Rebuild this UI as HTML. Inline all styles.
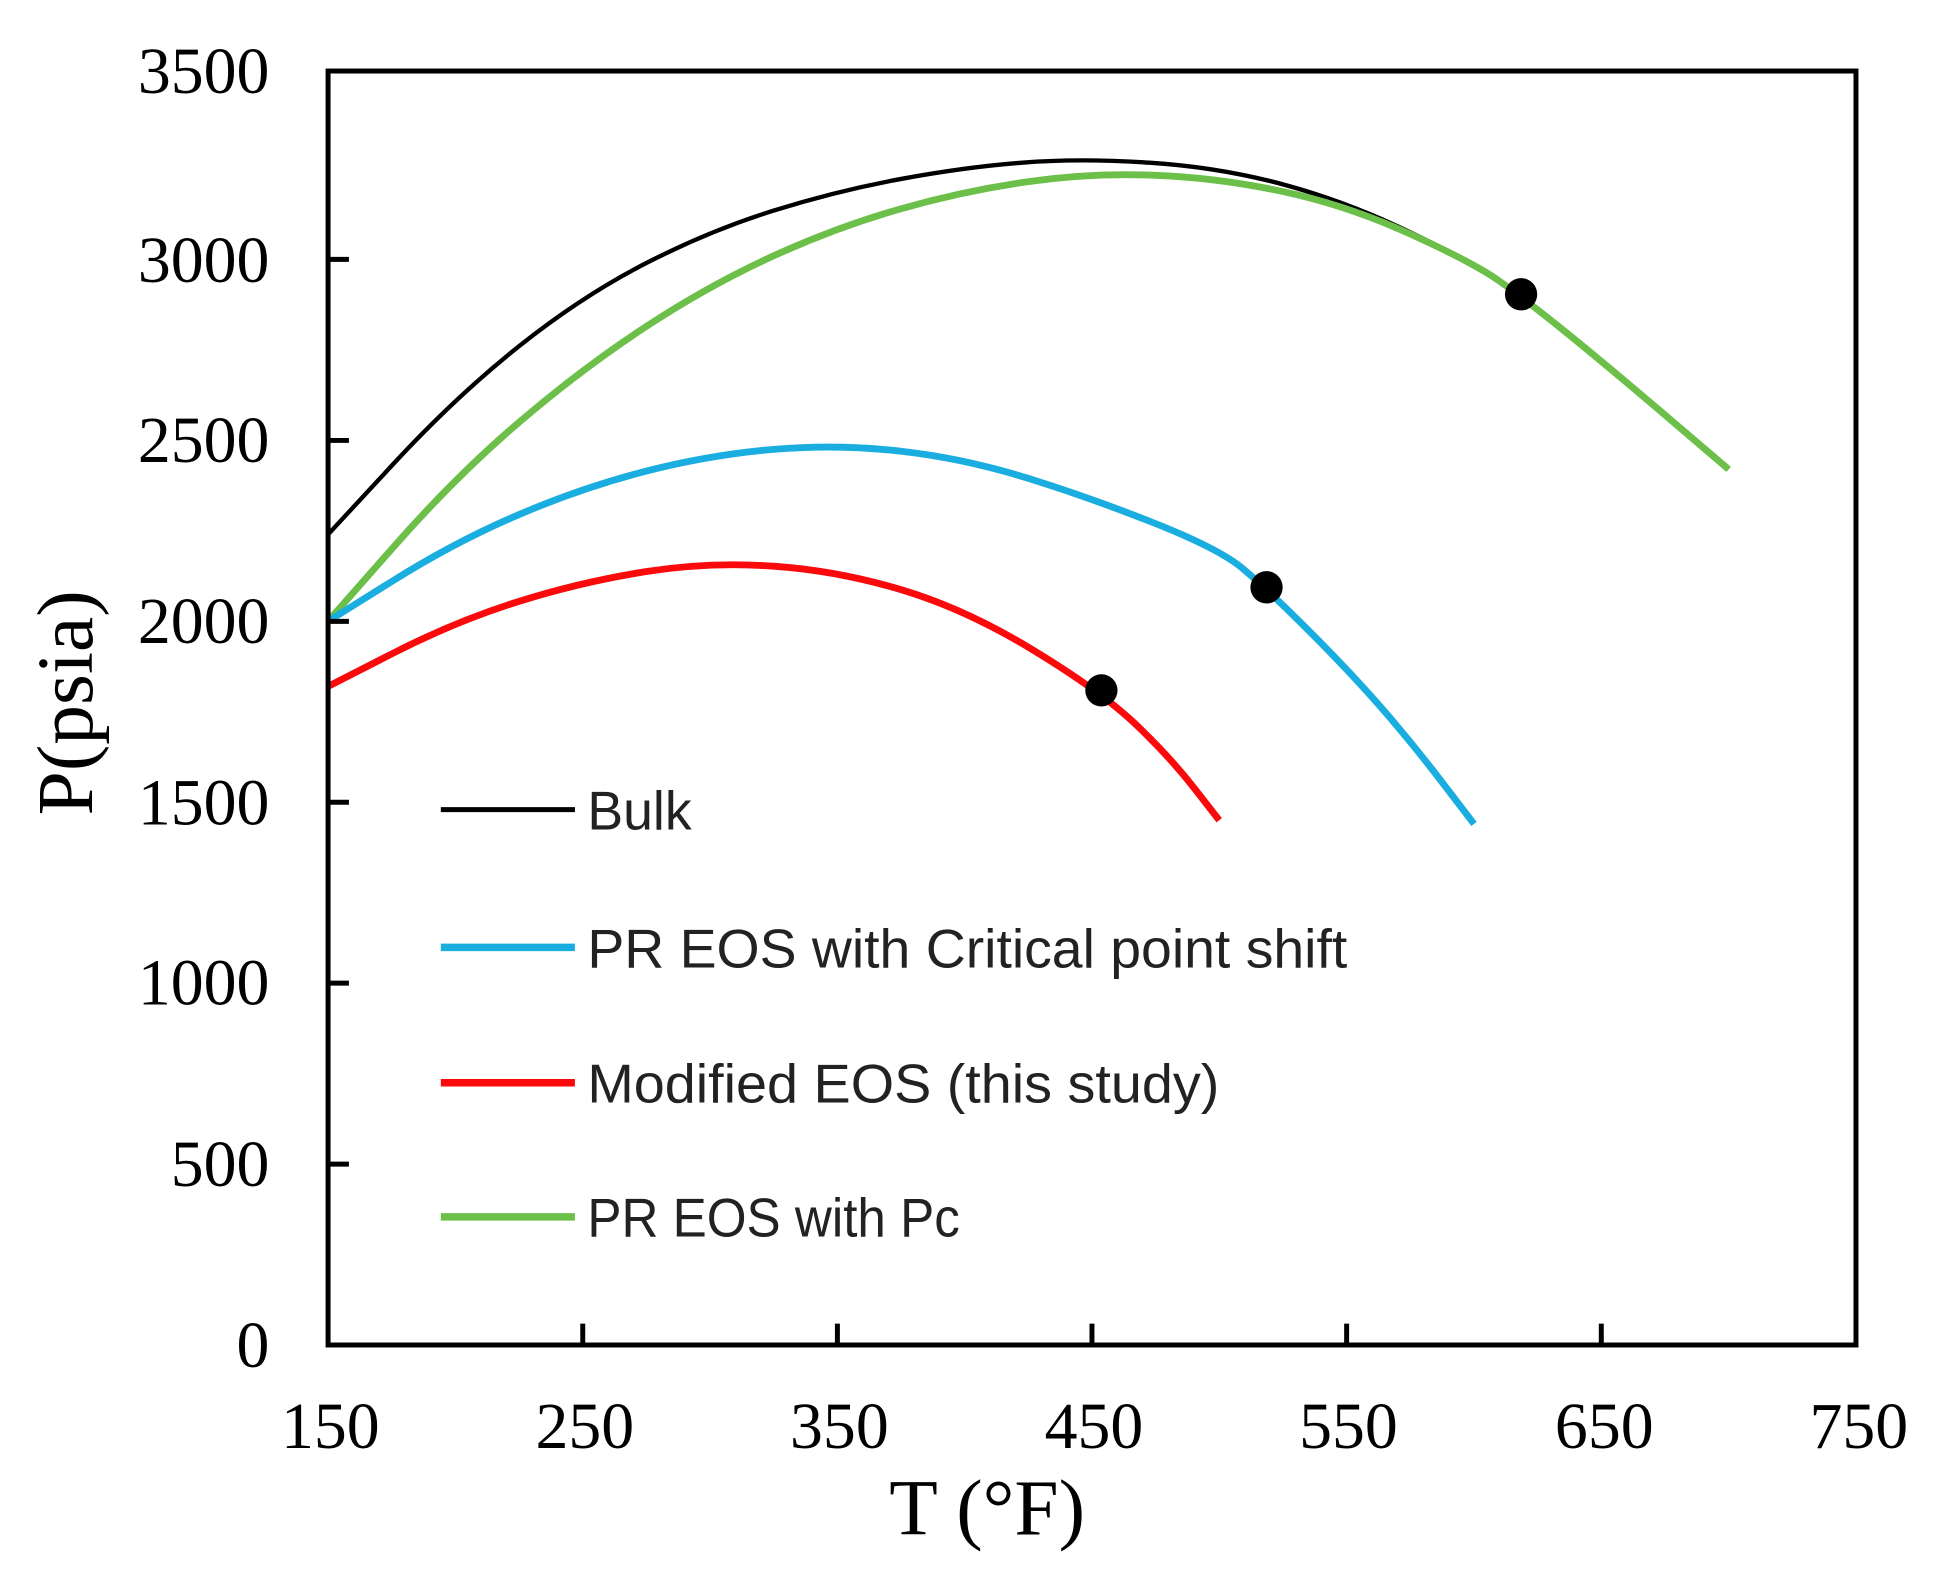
<!DOCTYPE html>
<html><head><meta charset="utf-8"><style>html,body{margin:0;padding:0;background:#fff}svg{display:block}</style></head>
<body>
<svg width="1947" height="1569" viewBox="0 0 1568 1263.6" xmlns="http://www.w3.org/2000/svg">
<rect x="0" y="0" width="1568" height="1263.6" fill="#fff"/>
<g fill="none" stroke-linejoin="round">
<path stroke="#000" stroke-width="3.5" d="M264.2,430.4 L315.5,375.0 Q366.7,319.6 418.0,278.8 Q469.3,238.0 520.6,211.8 Q571.8,185.6 623.1,169.6 Q674.4,153.5 725.7,144.1 Q776.9,134.6 823.1,131.0 Q869.2,127.3 925.6,131.0 Q981.9,134.6 1033.2,148.5 Q1084.5,162.3 1135.8,187.1 Q1187.1,211.8 1207.6,226.4 Q1228.1,241.0 1258.9,265.8 Q1289.6,290.5 1340.9,334.2 L1392.1,377.9"/>
<path stroke="#6cc04a" stroke-width="5.5" d="M264.2,500.3 L315.5,442.1 Q366.7,383.8 418.0,340.1 Q469.3,296.3 520.6,262.8 Q571.8,229.3 623.1,206.0 Q674.4,182.7 725.7,168.1 Q776.9,153.5 828.2,146.3 Q879.4,139.0 930.7,141.2 Q981.9,143.3 1033.2,154.3 Q1084.5,165.2 1135.8,188.5 Q1187.1,211.8 1207.6,226.4 Q1228.1,241.0 1258.9,265.8 Q1289.6,290.5 1340.9,334.2 L1392.1,377.9"/>
<path stroke="#1aaee0" stroke-width="5.5" d="M264.2,500.3 L315.5,468.3 Q366.7,436.2 418.0,414.4 Q469.3,392.5 520.6,379.4 Q571.8,366.3 623.1,361.9 Q674.4,357.5 725.7,363.4 Q776.9,369.2 828.2,385.3 Q879.4,401.3 930.7,421.7 Q981.9,442.1 1000.4,457.5 Q1018.9,472.9 1051.7,505.6 Q1084.5,538.2 1110.2,567.4 Q1135.8,596.5 1161.5,630.1 L1187.1,663.6"/>
<path stroke="#fa0a0a" stroke-width="5.5" d="M264.2,552.8 L315.5,526.6 Q366.7,500.3 418.0,484.3 Q469.3,468.3 520.6,460.3 Q571.8,452.3 623.1,456.0 Q674.4,459.6 725.7,474.9 Q776.9,490.1 831.3,523.1 Q885.6,556.0 913.3,582.1 Q941.0,608.2 961.5,634.4 L981.9,660.6"/>
</g>
<rect x="264.2" y="57.2" width="1230.5" height="1026" fill="none" stroke="#000" stroke-width="4"/>
<g stroke="#000" stroke-width="4">
<line x1="469.3" y1="1083" x2="469.3" y2="1066"/><line x1="674.4" y1="1083" x2="674.4" y2="1066"/>
<line x1="879.4" y1="1083" x2="879.4" y2="1066"/><line x1="1084.5" y1="1083" x2="1084.5" y2="1066"/>
<line x1="1289.6" y1="1083" x2="1289.6" y2="1066"/>
<line x1="264" y1="937.5" x2="281" y2="937.5"/><line x1="264" y1="791.8" x2="281" y2="791.8"/>
<line x1="264" y1="646.1" x2="281" y2="646.1"/><line x1="264" y1="500.4" x2="281" y2="500.4"/>
<line x1="264" y1="354.7" x2="281" y2="354.7"/><line x1="264" y1="208.9" x2="281" y2="208.9"/>
</g>
<g font-family="Liberation Serif, serif" font-size="53" fill="#000" text-anchor="end">
<text x="217" y="1101">0</text><text x="217" y="955">500</text><text x="217" y="809">1000</text>
<text x="217" y="664">1500</text><text x="217" y="518">2000</text><text x="217" y="372">2500</text>
<text x="217" y="227">3000</text><text x="217" y="75">3500</text>
</g>
<g font-family="Liberation Serif, serif" font-size="53" fill="#000" text-anchor="middle">
<text x="266" y="1166">150</text><text x="471" y="1166">250</text><text x="676" y="1166">350</text>
<text x="881" y="1166">450</text><text x="1086" y="1166">550</text><text x="1292" y="1166">650</text>
<text x="1497" y="1166">750</text>
<text x="795" y="1236" font-size="64">T (°F)</text>
<text transform="translate(74,566) rotate(-90)" font-size="64">P(psia)</text>
</g>
<g stroke-width="6">
<line x1="355" y1="652" x2="463" y2="652" stroke="#000" stroke-width="4"/>
<line x1="355" y1="763" x2="463" y2="763" stroke="#1aaee0"/>
<line x1="355" y1="872" x2="463" y2="872" stroke="#fa0a0a"/>
<line x1="355" y1="980" x2="463" y2="980" stroke="#6cc04a"/>
</g>
<g font-family="Liberation Sans, sans-serif" font-size="44" fill="#222">
<text x="473" y="668" textLength="84" lengthAdjust="spacingAndGlyphs">Bulk</text>
<text x="473" y="779" textLength="612" lengthAdjust="spacingAndGlyphs">PR EOS with Critical point shift</text>
<text x="473" y="888" textLength="509" lengthAdjust="spacingAndGlyphs">Modified EOS (this study)</text>
<text x="473" y="996" textLength="300" lengthAdjust="spacingAndGlyphs">PR EOS with Pc</text>
</g>
<g fill="#000">
<circle cx="1225" cy="237" r="13"/><circle cx="1020" cy="473" r="13"/><circle cx="887" cy="556" r="13"/>
</g>
</svg>
</body></html>
